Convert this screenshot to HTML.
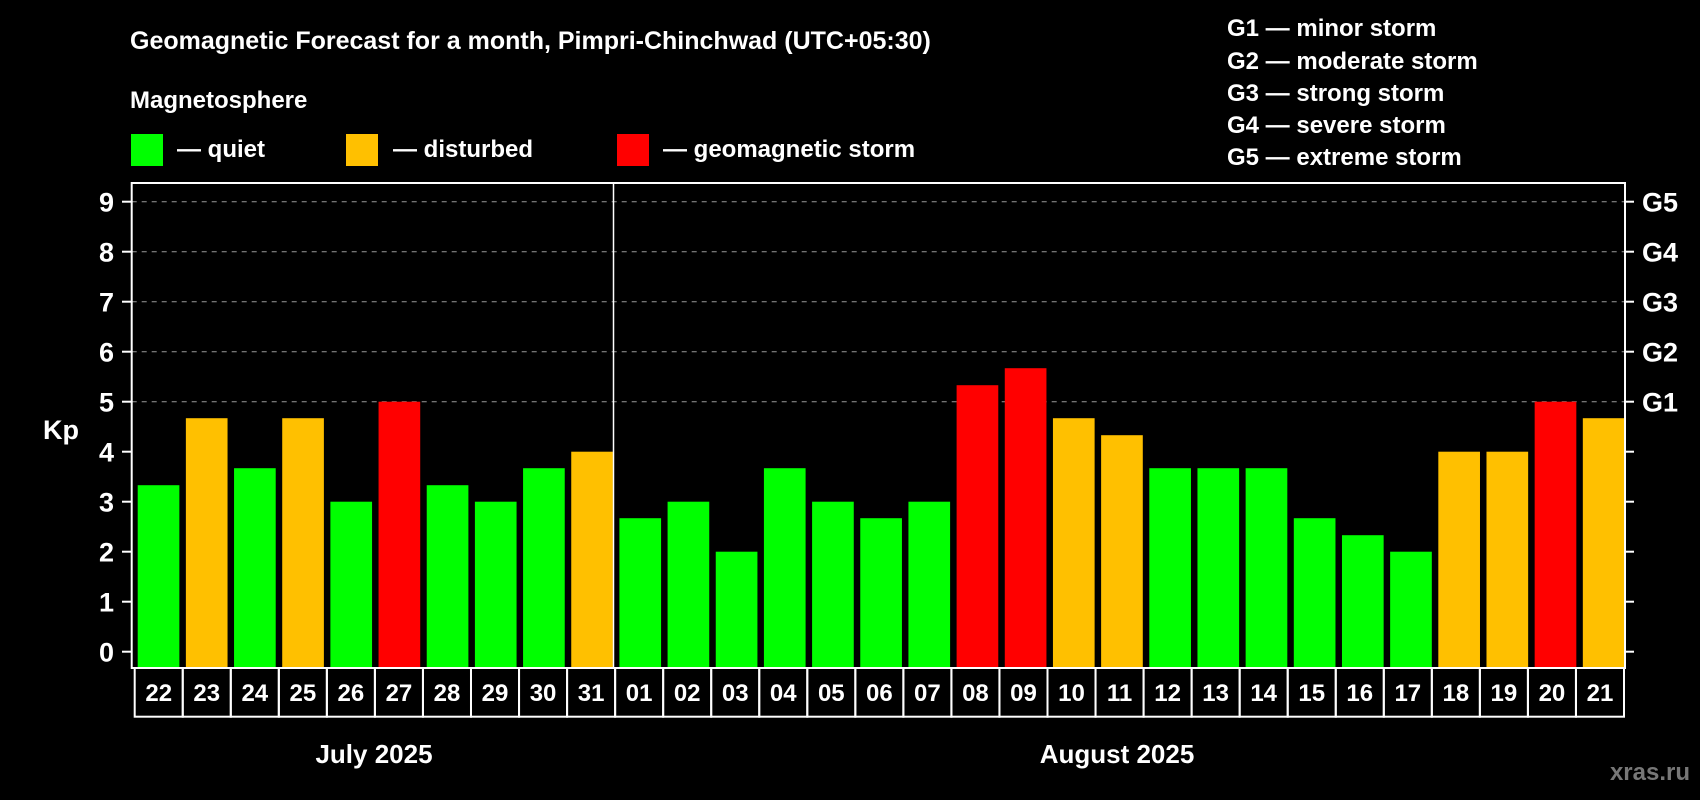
<!DOCTYPE html>
<html><head><meta charset="utf-8"><style>
html,body{margin:0;padding:0;background:#000;}
svg{display:block;font-family:"Liberation Sans",Arial,sans-serif;font-weight:bold;}
</style></head><body>
<svg id="chart" width="1700" height="800" viewBox="0 0 1700 800">
<rect width="1700" height="800" fill="#000"/>
<text x="130" y="49" fill="#fff" font-size="25">Geomagnetic Forecast for a month, Pimpri-Chinchwad (UTC+05:30)</text>
<text x="130" y="108" fill="#fff" font-size="24">Magnetosphere</text>
<rect x="131" y="134" width="32" height="32" fill="#00ff00"/>
<text x="177" y="157" fill="#fff" font-size="24">— quiet</text>
<rect x="346" y="134" width="32" height="32" fill="#ffc000"/>
<text x="393" y="157" fill="#fff" font-size="24">— disturbed</text>
<rect x="617" y="134" width="32" height="32" fill="#ff0000"/>
<text x="663" y="157" fill="#fff" font-size="24">— geomagnetic storm</text>
<g font-size="24" fill="#fff">
<text x="1227" y="36">G1 — minor storm</text>
<text x="1227" y="69">G2 — moderate storm</text>
<text x="1227" y="101">G3 — strong storm</text>
<text x="1227" y="133">G4 — severe storm</text>
<text x="1227" y="165">G5 — extreme storm</text>
</g>
<text x="43" y="439" fill="#fff" font-size="27">Kp</text>
<g id="grid"></g>
<g id="bars"></g>
<g id="cells"></g>
<rect x="131.7" y="183" width="1493.3" height="485" fill="none" stroke="#fff" stroke-width="2"/>
<line x1="613.5" y1="183" x2="613.5" y2="668" stroke="#fff" stroke-width="1.5"/>
<text x="374" y="763" fill="#fff" font-size="26" text-anchor="middle">July 2025</text>
<text x="1117" y="763" fill="#fff" font-size="26" text-anchor="middle">August 2025</text>
<text x="1690" y="780" fill="#777" font-size="24" text-anchor="end">xras.ru</text>
</svg>
<script>
const days = ["22","23","24","25","26","27","28","29","30","31","01","02","03","04","05","06","07","08","09","10","11","12","13","14","15","16","17","18","19","20","21"];
const kpValues = [3.33,4.67,3.67,4.67,3,5,3.33,3,3.67,4,2.67,3,2,3.67,3,2.67,3,5.33,5.67,4.67,4.33,3.67,3.67,3.67,2.67,2.33,2,4,4,5,4.67];
const yTicks = [0,1,2,3,4,5,6,7,8,9];
const gLabels = ["G1","G2","G3","G4","G5"];
const gLevels = [5,6,7,8,9];

const NS = "http://www.w3.org/2000/svg";
const L = 131.7, R = 1625, B = 668, slot = (R - L) / days.length;
const y = v => 651.7 - v * 50;
const xs = i => L + i * slot;
function mk(tag, attrs, parent) {
  const e = document.createElementNS(NS, tag);
  for (const k in attrs) e.setAttribute(k, attrs[k]);
  parent.appendChild(e); return e;
}
const grid = document.getElementById('grid');
yTicks.forEach(t => {
  const yy = y(t);
  const tk = mk('line', {x1: 122, x2: L, y1: yy, y2: yy, stroke: '#fff', 'stroke-width': 2}, grid);
  
  
  const tr = mk('line', {x1: R, x2: 1634, y1: yy, y2: yy, stroke: '#fff', 'stroke-width': 2}, grid);
  
  
  const lb = mk('text', {x: 114, y: yy + 10, fill: '#fff', 'font-size': 27, 'text-anchor': 'end'}, grid);
  lb.textContent = t;
  
  
});
gLevels.forEach((g, i) => {
  const yy = y(g);
  const gl = mk('line', {x1: L, x2: R, y1: yy, y2: yy, stroke: '#999', 'stroke-width': 1, 'stroke-dasharray': '5,5'}, grid);
  
  
  const t = mk('text', {x: 1642, y: yy + 10, fill: '#fff', 'font-size': 27}, grid);
  t.textContent = gLabels[i];
  
  
});
const bars = document.getElementById('bars');
kpValues.forEach((v, i) => {
  const col = v >= 5 ? '#ff0000' : (v >= 4 ? '#ffc000' : '#00ff00');
  const top = y(v);
  const r = mk('rect', {x: xs(i) + 6, y: top, width: slot - 6.5, height: B - top, fill: col}, bars);
  
  
});
const cells = document.getElementById('cells');
days.forEach((d, i) => {
  const x0 = 134.7 + i * (1624 - 134.7) / days.length;
  const w = (1624 - 134.7) / days.length;
  const c = mk('rect', {x: x0, y: 668, width: w, height: 48.7, fill: 'none', stroke: '#fff', 'stroke-width': 2}, cells);
  
  
  const t = mk('text', {x: x0 + w / 2, y: 701, fill: '#fff', 'font-size': 24, 'text-anchor': 'middle'}, cells);
  t.textContent = d;
  
  
});
</script>
</body></html>
